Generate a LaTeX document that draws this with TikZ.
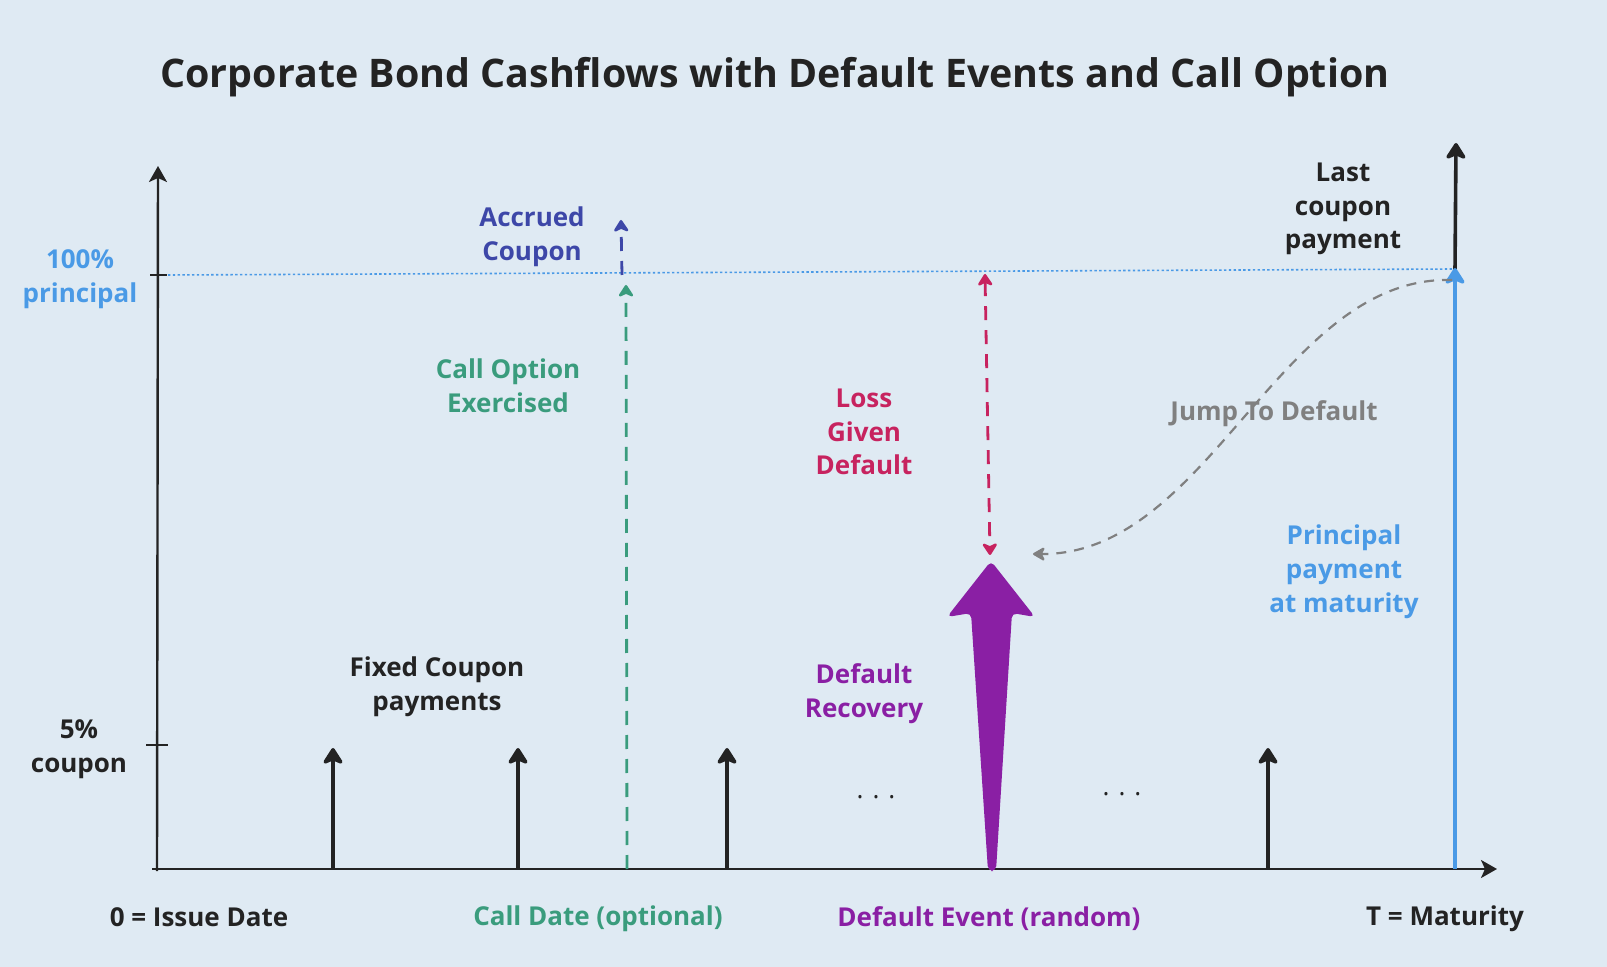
\documentclass[tikz,border=0pt]{standalone}
\usepackage{fontspec}
\setmainfont{Open Sans}
\usetikzlibrary{arrows.meta}
\definecolor{bg}{HTML}{DFEAF3}
\definecolor{ink}{HTML}{232323}
\definecolor{princblue}{HTML}{4A9AE6}
\definecolor{accrued}{HTML}{3D47A8}
\definecolor{callgreen}{HTML}{3A9C7D}
\definecolor{lossred}{HTML}{C7235F}
\definecolor{recpurple}{HTML}{8A1FA4}
\definecolor{jumpgray}{HTML}{808080}
\tikzset{
  lbl/.style={font=\bfseries\fontsize{13}{16.9}\selectfont, align=center},
  pay/.style={ink, line width=1.8pt, -{Stealth[length=9.5pt,width=12pt,inset=2.5pt,round]}},
  dashtip/.style={line width=1.4pt, dash pattern=on 7pt off 5pt, -{Stealth[length=7pt,width=9pt,inset=2pt,round]}},
}
\begin{document}
\begin{tikzpicture}[x=0.5pt,y=-0.5pt]
  \fill[bg] (0,0) rectangle (1607,967);
  \useasboundingbox (0,0) rectangle (1607,967);
  \node[lbl, font=\bfseries\fontsize{19.7}{24}\selectfont, text=ink] (title) at (775,77)
    {Corporate Bond Cashflows with Default Events and Call Option};
  % axes
  \coordinate (origin) at (157,869);
  \coordinate (xend) at (1497,869);
  \coordinate (yend) at (158,166);
  \draw[ink, line width=1.2pt, -{Stealth[length=8pt,width=9pt,inset=2pt]}] (152,869) -- (xend);
  \draw[ink, line width=1.2pt, -{Stealth[length=8pt,width=9pt,inset=2pt]}] (157,871) -- (yend);
  \draw[ink, line width=1pt] (150,275) -- (167,275);
  \draw[ink, line width=1pt] (146,745) -- (168,745);
  \draw[princblue, line width=0.8pt, dash pattern=on 1.2pt off 1.2pt] (168,275) -- (1455,269);
  % coupons
  \foreach \x [count=\i] in {333,518,727,1268} {
    \coordinate (cb\i) at (\x,869);
    \coordinate (ct\i) at (\x,748);
    \draw[pay] (cb\i) -- (ct\i);
  }
  \coordinate (lastb) at (1455,270);
  \coordinate (lastt) at (1456,143);
  \draw[pay] (lastb) -- (lastt);
  % principal at maturity
  \coordinate (prb) at (1455,869);
  \coordinate (prt) at (1455,268);
  \draw[princblue, line width=2pt, -{Stealth[length=9.5pt,width=12pt,inset=2.5pt,round]}] (prb) -- (prt);
  % call
  \coordinate (callb) at (627,869);
  \coordinate (callt) at (626,285);
  \coordinate (accb) at (622,275);
  \coordinate (acct) at (621,220);
  \draw[dashtip, callgreen] (callb) -- (callt);
  \draw[dashtip, accrued] (accb) -- (acct);
  % default
  \coordinate (lgdt) at (985,274);
  \coordinate (lgdb) at (990,555);
  \draw[dashtip, lossred, {Stealth[length=7pt,width=9pt,inset=2pt,round]}-{Stealth[length=7pt,width=9pt,inset=2pt,round]}] (lgdt) -- (lgdb);
  \fill[recpurple, rounded corners=2.5pt] (988,871) -- (996,871) -- (1012,613) -- (1035,617)
    -- (991,561) -- (947,617) -- (971,613) -- cycle;
  \coordinate (jumps) at (1452,280);
  \coordinate (jumpe) at (1033,554);
  \draw[jumpgray, line width=1.1pt, dash pattern=on 5pt off 4pt, -{Stealth[length=7pt,width=8pt,inset=2pt,round]}]
    (jumps) .. controls (1280,275) and (1210,555) .. (jumpe);
  % labels
  \node[lbl, text=princblue] (pct100) at (80,279) {100\%\\principal};
  \node[lbl, text=ink] (pct5) at (79,749) {5\%\\coupon};
  \node[lbl, text=accrued] (acclbl) at (532,237) {Accrued\\Coupon};
  \node[lbl, text=callgreen] (calllbl) at (508,386) {Call Option\\Exercised};
  \node[lbl, text=lossred] (lgdlbl) at (864,432) {Loss\\Given\\Default};
  \node[lbl, text=jumpgray] (jumplbl) at (1274,414) {Jump To Default};
  \node[lbl, text=ink] (lastlbl) at (1343,209) {Last\\coupon\\payment};
  \node[lbl, text=princblue] (prlbl) at (1344,572) {Principal\\payment\\at maturity};
  \node[lbl, text=ink] (cpnlbl) at (437,687) {Fixed Coupon\\payments};
  \node[lbl, text=recpurple] (reclbl) at (864,694) {Default\\Recovery};
  \node[lbl, font=\fontsize{13}{16.9}\selectfont, text=ink] (dotsa) at (876,797) {. . .};
  \node[lbl, font=\fontsize{13}{16.9}\selectfont, text=ink] (dotsb) at (1122,794) {. . .};
  \node[lbl, text=ink] (issue) at (199,917) {0 = Issue Date};
  \node[lbl, text=callgreen] (calldate) at (598,919) {Call Date (optional)};
  \node[lbl, text=recpurple] (defevent) at (989,919) {Default Event (random)};
  \node[lbl, text=ink] (maturity) at (1445,919) {T = Maturity};
\end{tikzpicture}
\end{document}
